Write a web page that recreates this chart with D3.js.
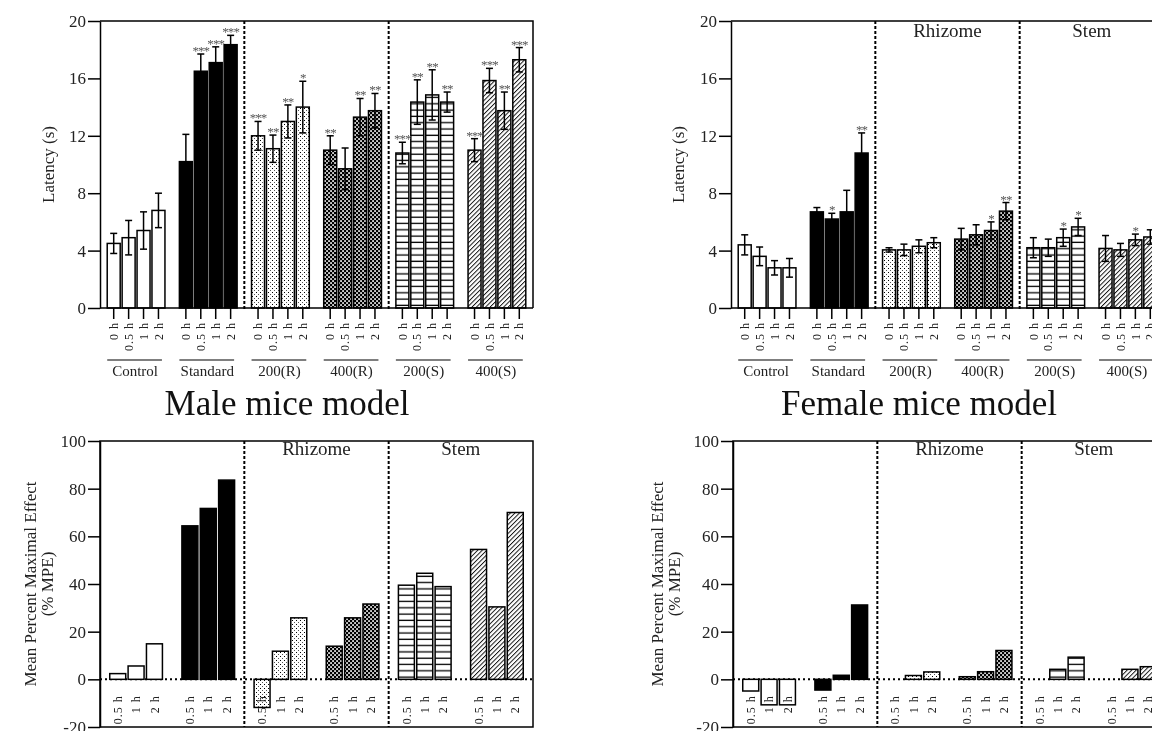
<!DOCTYPE html>
<html>
<head>
<meta charset="utf-8">
<script src="https://cdn.jsdelivr.net/npm/d3@7"></script>
<style>
  body { margin: 0; background: #fff; }
  svg { display: block; font-family: "Liberation Serif", "Times New Roman", serif; will-change: transform; }
</style>
</head>
<body>
<script>
// groups and time points
const groups = ["Control", "Standard", "200(R)", "400(R)", "200(S)", "400(S)"];
const latencyTimes = ["0 h", "0.5 h", "1 h", "2 h"];
const mpeTimes = ["0.5 h", "1 h", "2 h"];
const sections = ["Rhizome", "Stem"];
const latencyTicks = [0, 4, 8, 12, 16, 20];
const mpeTicks = [-20, 0, 20, 40, 60, 80, 100];

// male latency (s), mean and SEM
const maleLatency = [
  [4.5, 4.9, 5.4, 6.8],
  [10.2, 16.5, 17.1, 18.35],
  [12.0, 11.1, 13.0, 14.0],
  [11.0, 9.7, 13.3, 13.75],
  [10.8, 14.35, 14.85, 14.35],
  [11.0, 15.85, 13.75, 17.3]
];
const maleLatencyErr = [
  [0.7, 1.2, 1.3, 1.2],
  [1.9, 1.2, 1.1, 0.65],
  [1.0, 0.95, 1.15, 1.8],
  [1.0, 1.45, 1.3, 1.2],
  [0.75, 1.55, 1.75, 0.7],
  [0.8, 0.85, 1.3, 0.85]
];
const maleStars = [
  ["", "", "", ""],
  ["", "***", "***", "***"],
  ["***", "**", "**", "*"],
  ["**", "", "**", "**"],
  ["***", "**", "**", "**"],
  ["***", "***", "**", "***"]
];

// female latency (s), mean and SEM
const femaleLatency = [
  [4.4, 3.6, 2.8, 2.8],
  [6.7, 6.2, 6.7, 10.8],
  [4.05, 4.05, 4.3, 4.55],
  [4.8, 5.1, 5.4, 6.75],
  [4.2, 4.2, 4.9, 5.65],
  [4.15, 4.05, 4.75, 4.95]
];
const femaleLatencyErr = [
  [0.7, 0.65, 0.5, 0.65],
  [0.3, 0.4, 1.5, 1.4],
  [0.15, 0.4, 0.45, 0.35],
  [0.75, 0.7, 0.6, 0.6],
  [0.7, 0.6, 0.6, 0.6],
  [0.9, 0.45, 0.4, 0.5]
];
const femaleStars = [
  ["", "", "", ""],
  ["", "*", "", "**"],
  ["", "", "", ""],
  ["", "", "*", "**"],
  ["", "", "*", "*"],
  ["", "", "*", ""]
];

// % MPE
const maleMPE = [
  [2.4, 5.6, 14.9],
  [64.4, 71.7, 83.6],
  [-11.8, 11.8, 25.8],
  [13.9, 25.8, 31.6],
  [39.5, 44.5, 38.9],
  [54.5, 30.4, 70.0]
];
const femaleMPE = [
  [-4.9, -10.7, -10.7],
  [-4.5, 1.7, 31.2],
  [0, 1.6, 3.1],
  [1.1, 3.2, 12.1],
  [0, 4.2, 9.3],
  [0, 4.2, 5.3]
];

const width = 1152, height = 731;
const serif = '"Liberation Serif", "Times New Roman", serif';
const textColor = "#222";
const fills = ["#fff", "#000", "url(#p-dots)", "url(#p-check)", "url(#p-hline)", "url(#p-diag)"];

const svg = d3.select("body").append("svg")
  .attr("width", width)
  .attr("height", height)
  .attr("viewBox", [0, 0, width, height]);

// bar textures
const defs = svg.append("defs");
const dots = defs.append("pattern").attr("id", "p-dots")
  .attr("patternUnits", "userSpaceOnUse").attr("width", 4).attr("height", 4);
dots.append("rect").attr("width", 4).attr("height", 4).attr("fill", "#fff");
dots.append("rect").attr("x", 0).attr("y", 0).attr("width", 1).attr("height", 1).attr("fill", "#000");
dots.append("rect").attr("x", 2).attr("y", 2).attr("width", 1).attr("height", 1).attr("fill", "#555");

const check = defs.append("pattern").attr("id", "p-check")
  .attr("patternUnits", "userSpaceOnUse").attr("width", 4).attr("height", 4);
check.append("rect").attr("width", 4).attr("height", 4).attr("fill", "#000");
check.append("rect").attr("x", 0.2).attr("y", 0.2).attr("width", 1.7).attr("height", 1.7).attr("fill", "#fff");
check.append("rect").attr("x", 2.2).attr("y", 2.2).attr("width", 1.7).attr("height", 1.7).attr("fill", "#fff");

const hline = defs.append("pattern").attr("id", "p-hline")
  .attr("patternUnits", "userSpaceOnUse").attr("width", 8).attr("height", 6.3);
hline.append("rect").attr("width", 8).attr("height", 6.3).attr("fill", "#fff");
hline.append("line").attr("x1", 0).attr("x2", 8).attr("y1", 3).attr("y2", 3)
  .attr("stroke", "#000").attr("stroke-width", 1.3);

const diag = defs.append("pattern").attr("id", "p-diag")
  .attr("patternUnits", "userSpaceOnUse").attr("width", 3.2).attr("height", 4)
  .attr("patternTransform", "rotate(45)");
diag.append("rect").attr("width", 3.2).attr("height", 4).attr("fill", "#fff");
diag.append("line").attr("x1", 0.5).attr("x2", 0.5).attr("y1", 0).attr("y2", 4)
  .attr("stroke", "#000").attr("stroke-width", 0.9);

function styleYAxis(a) {
  a.attr("font-family", serif).attr("font-size", 17);
  a.select(".domain").attr("stroke-width", 1.5);
  a.selectAll(".tick line").attr("stroke-width", 1.5);
  a.selectAll(".tick text").attr("fill", textColor);
}

function rotateLabels(a, offset) {
  a.attr("font-family", serif).attr("font-size", 12);
  a.select(".domain").remove();
  a.selectAll(".tick line").attr("stroke-width", 1.5);
  a.selectAll(".tick text")
    .attr("fill", textColor)
    .attr("letter-spacing", 1)
    .attr("transform", "rotate(-90)")
    .attr("text-anchor", "end")
    .attr("x", -offset)
    .attr("y", 0)
    .attr("dy", "0.35em");
}

function separators(g, x0, top, bottom) {
  const half = x0.step() * x0.paddingInner() / 2;
  const xs = [x0(groups[2]) - half, x0(groups[4]) - half];
  g.selectAll(".sep").data(xs).join("line")
    .attr("class", "sep")
    .attr("x1", d => d).attr("x2", d => d)
    .attr("y1", top).attr("y2", bottom)
    .attr("stroke", "#000").attr("stroke-width", 2)
    .attr("stroke-dasharray", "3,2");
  return xs;
}

function sectionLabels(g, xs, right, baseline) {
  const centers = [(xs[0] + xs[1]) / 2, (xs[1] + right) / 2];
  g.selectAll(".section").data(sections).join("text")
    .attr("class", "section")
    .attr("x", (d, i) => centers[i])
    .attr("y", baseline)
    .attr("text-anchor", "middle")
    .attr("font-size", 19)
    .attr("fill", textColor)
    .text(d => d);
}

function latencyPanel(left, values, errors, stars, withSections, yLabelX) {
  const top = 21, bottom = 308, right = left + 433;
  const y = d3.scaleLinear([0, 20], [bottom, top]);
  const x0 = d3.scaleBand(groups, [left, right]).paddingInner(0.2).paddingOuter(0.1);
  const x1 = d3.scaleBand(latencyTimes, [0, x0.bandwidth()]).paddingInner(0.13);
  const g = svg.append("g");

  const rows = groups.flatMap((grp, gi) => latencyTimes.map((t, ti) => ({
    grp, gi, t, v: values[gi][ti], e: errors[gi][ti], s: stars[gi][ti]
  })));
  const cx = d => x0(d.grp) + x1(d.t) + x1.bandwidth() / 2;

  g.append("path")
    .attr("d", `M${left},${top}H${right}V${bottom}`)
    .attr("fill", "none").attr("stroke", "#000").attr("stroke-width", 1.5);

  g.append("g").selectAll("rect").data(rows).join("rect")
    .attr("x", d => x0(d.grp) + x1(d.t))
    .attr("y", d => y(d.v))
    .attr("width", x1.bandwidth())
    .attr("height", d => y(0) - y(d.v))
    .attr("fill", d => fills[d.gi])
    .attr("stroke", "#000")
    .attr("stroke-width", 1.5);

  const err = g.append("g").attr("stroke", "#000").attr("stroke-width", 1.5);
  err.selectAll(".stem").data(rows).join("line").attr("class", "stem")
    .attr("x1", cx).attr("x2", cx)
    .attr("y1", d => y(d.v - d.e)).attr("y2", d => y(d.v + d.e));
  err.selectAll(".capHi").data(rows).join("line").attr("class", "capHi")
    .attr("x1", d => cx(d) - 3.5).attr("x2", d => cx(d) + 3.5)
    .attr("y1", d => y(d.v + d.e)).attr("y2", d => y(d.v + d.e));
  err.selectAll(".capLo").data(rows).join("line").attr("class", "capLo")
    .attr("x1", d => cx(d) - 3.5).attr("x2", d => cx(d) + 3.5)
    .attr("y1", d => y(d.v - d.e)).attr("y2", d => y(d.v - d.e));

  g.append("g").selectAll("text").data(rows.filter(d => d.s)).join("text")
    .attr("x", cx)
    .attr("y", d => y(d.v + d.e) + 1)
    .attr("text-anchor", "middle")
    .attr("font-size", 13)
    .attr("letter-spacing", -0.9)
    .attr("fill", "#555")
    .text(d => d.s);

  const xs = separators(g, x0, top, bottom + 2);
  if (withSections) sectionLabels(g, xs, right, 37);

  // x axis: baseline plus one small axis per group
  g.append("line")
    .attr("x1", left).attr("x2", right).attr("y1", bottom).attr("y2", bottom)
    .attr("stroke", "#000").attr("stroke-width", 1.5);
  groups.forEach(grp => {
    g.append("g")
      .attr("transform", `translate(${x0(grp)},${bottom})`)
      .call(d3.axisBottom(x1).tickSize(11).tickSizeOuter(0))
      .call(a => rotateLabels(a, 14));
  });

  // group captions
  const cap = g.append("g");
  cap.selectAll("line").data(groups).join("line")
    .attr("x1", d => x0(d)).attr("x2", d => x0(d) + x0.bandwidth() - 3)
    .attr("y1", 360).attr("y2", 360)
    .attr("stroke", "#000").attr("stroke-width", 1.2);
  cap.selectAll("text").data(groups).join("text")
    .attr("x", d => x0(d) + x0.bandwidth() / 2 - 1)
    .attr("y", 376)
    .attr("text-anchor", "middle")
    .attr("font-size", 15)
    .attr("fill", textColor)
    .text(d => d);

  g.append("g")
    .attr("transform", `translate(${left},0)`)
    .call(d3.axisLeft(y).tickValues(latencyTicks).tickFormat(d => String(d))
      .tickSize(12).tickPadding(2).tickSizeOuter(0))
    .call(styleYAxis);

  g.append("text")
    .attr("transform", `translate(${yLabelX},${(top + bottom) / 2}) rotate(-90)`)
    .attr("text-anchor", "middle")
    .attr("dy", "0.35em")
    .attr("font-size", 17)
    .attr("fill", textColor)
    .text("Latency (s)");
}

function mpePanel(left, values, yLabelX) {
  const top = 441, bottom = 727, right = left + 433;
  const y = d3.scaleLinear([-20, 100], [bottom, top]);
  const x0 = d3.scaleBand(groups, [left, right]).paddingInner(0.27).paddingOuter(0.135);
  const x1 = d3.scaleBand(mpeTimes, [0, x0.bandwidth()]).paddingInner(0.13);
  const g = svg.append("g");

  const rows = groups.flatMap((grp, gi) => mpeTimes.map((t, ti) => ({ grp, gi, t, v: values[gi][ti] })));

  g.append("rect")
    .attr("x", left).attr("y", top)
    .attr("width", right - left).attr("height", bottom - top)
    .attr("fill", "none").attr("stroke", "#000").attr("stroke-width", 1.5);

  g.append("line")
    .attr("x1", left).attr("x2", right).attr("y1", y(0)).attr("y2", y(0))
    .attr("stroke", "#000").attr("stroke-width", 2)
    .attr("stroke-dasharray", "2,3");

  g.append("g").selectAll("rect").data(rows).join("rect")
    .attr("x", d => x0(d.grp) + x1(d.t))
    .attr("y", d => Math.min(y(d.v), y(0)))
    .attr("width", x1.bandwidth())
    .attr("height", d => Math.abs(y(d.v) - y(0)))
    .attr("fill", d => fills[d.gi])
    .attr("stroke", "#000")
    .attr("stroke-width", 1.5);

  const xs = separators(g, x0, top, bottom);
  sectionLabels(g, xs, right, 455);

  groups.forEach(grp => {
    g.append("g")
      .attr("transform", `translate(${x0(grp)},${y(0)})`)
      .call(d3.axisBottom(x1).tickSize(0).tickSizeOuter(0))
      .call(a => rotateLabels(a, 16));
  });

  g.append("g")
    .attr("transform", `translate(${left},0)`)
    .call(d3.axisLeft(y).tickValues(mpeTicks).tickFormat(d => String(d))
      .tickSize(12).tickPadding(2).tickSizeOuter(0))
    .call(styleYAxis);

  const lbl = g.append("text")
    .attr("transform", `translate(${yLabelX},${(top + bottom) / 2}) rotate(-90)`)
    .attr("text-anchor", "middle")
    .attr("font-size", 17)
    .attr("fill", textColor);
  lbl.append("tspan").attr("x", 0).attr("dy", "0.35em").text("Mean Percent Maximal Effect");
  lbl.append("tspan").attr("x", 0).attr("dy", 17).text("(% MPE)");
}

latencyPanel(100, maleLatency, maleLatencyErr, maleStars, false, 48);
latencyPanel(731, femaleLatency, femaleLatencyErr, femaleStars, true, 678);
mpePanel(100, maleMPE, 30);
mpePanel(733, femaleMPE, 657);

// panel titles
svg.append("g")
  .attr("font-size", 35)
  .attr("fill", "#111")
  .attr("text-anchor", "middle")
  .selectAll("text")
  .data([["Male mice model", 287], ["Female mice model", 919]])
  .join("text")
  .attr("x", d => d[1])
  .attr("y", 415)
  .text(d => d[0]);
</script>
</body>
</html>
